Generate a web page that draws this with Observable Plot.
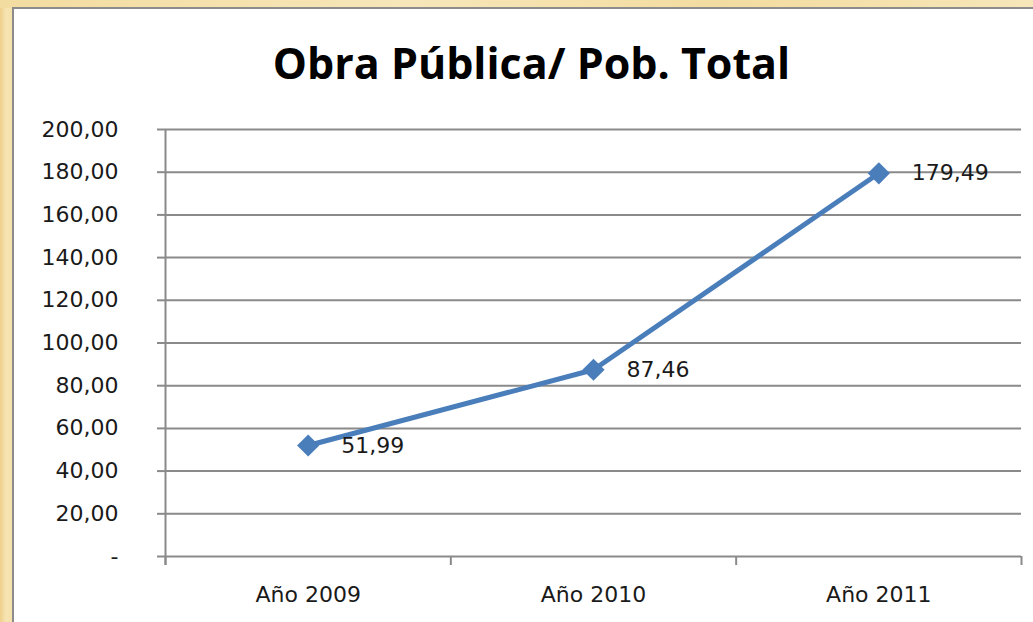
<!DOCTYPE html>
<html>
<head>
<meta charset="utf-8">
<script src="https://cdn.jsdelivr.net/npm/d3@7"></script>
<script src="https://cdn.jsdelivr.net/npm/@observablehq/plot@0.6"></script>
<style>
  html, body { margin: 0; padding: 0; width: 1033px; height: 622px; overflow: hidden; }
  body {
    background: linear-gradient(90deg, #efcf8a 0px, #f6e4b2 6px, #f5e1ab 12px);
    position: relative;
  }
  #topband { position: absolute; left: 0; top: 0; width: 1033px; height: 8px; background: linear-gradient(90deg, #f3dca0, #f6e6b9 40%, #f3dca0 70%, #f6e6b9); }
  #panel {
    position: absolute; left: 12px; top: 7px; width: 1100px; height: 700px;
    background: #fff; border: 2px solid #8c8c8c; box-sizing: border-box;
  }
  #title {
    position: absolute; left: 0; top: 41px; width: 1063px; text-align: center;
    font-family: "Open Sans", sans-serif; font-weight: 700; font-size: 43px; line-height: 43px; color: #000;
  }
  #chart { position: absolute; left: 0; top: 110px; }
</style>
</head>
<body>
<div id="topband"></div>
<div id="panel"></div>
<div id="title">Obra Pública/ Pob. Total</div>
<div id="chart"></div>
<script>
const categories = ["Año 2009", "Año 2010", "Año 2011"];
const values = [51.99, 87.46, 179.49];
const valueLabels = ["51,99", "87,46", "179,49"];
const yTicks = [0, 20, 40, 60, 80, 100, 120, 140, 160, 180, 200];

const rows = categories.map((c, i) => ({pos: i + 0.5, cat: c, value: values[i], label: valueLabels[i]}));
const fmt = d => d === 0 ? "-" : d.toFixed(2).replace(".", ",");
const gray = "#8a8a8a";
const blue = "#4a7ebb";
const font = "DejaVu Sans";

const chart = Plot.plot({
  width: 1033,
  height: 512,
  marginTop: 19,
  marginBottom: 66,
  marginLeft: 165,
  marginRight: 12,
  style: {fontFamily: font, background: "transparent", color: "#1a1a1a"},
  x: {domain: [0, categories.length], axis: null},
  y: {domain: [0, 200], axis: null},
  marks: [
    Plot.ruleY(yTicks, {stroke: gray, strokeWidth: 2}),
    Plot.axisY({ticks: yTicks, label: null, tickSize: 8, tickPadding: 39, tickFormat: fmt, fontSize: 22, stroke: gray, strokeWidth: 2, strokeOpacity: 1, fill: "#1a1a1a"}),
    Plot.ruleX([0], {y1: 200, y2: 0, insetBottom: -9, stroke: gray, strokeWidth: 2}),
    Plot.axisX({ticks: d3.range(categories.length + 1), label: null, tickSize: 9, tickFormat: () => "", stroke: gray, strokeWidth: 2, strokeOpacity: 1}),
    Plot.axisX({ticks: rows.map(d => d.pos), label: null, tickSize: 0, tickPadding: 30, tickFormat: (d) => categories[Math.floor(d)], fontSize: 22, fill: "#1a1a1a"}),
    Plot.line(rows, {x: "pos", y: "value", stroke: blue, strokeWidth: 5}),
    Plot.dot(rows, {x: "pos", y: "value", symbol: "diamond2", r: 10, fill: blue, stroke: "none"}),
    Plot.text(rows, {x: "pos", y: "value", text: "label", textAnchor: "start", dx: 33, fontSize: 22, fill: "#1a1a1a"})
  ]
});
document.getElementById("chart").appendChild(chart);
</script>
</body>
</html>
